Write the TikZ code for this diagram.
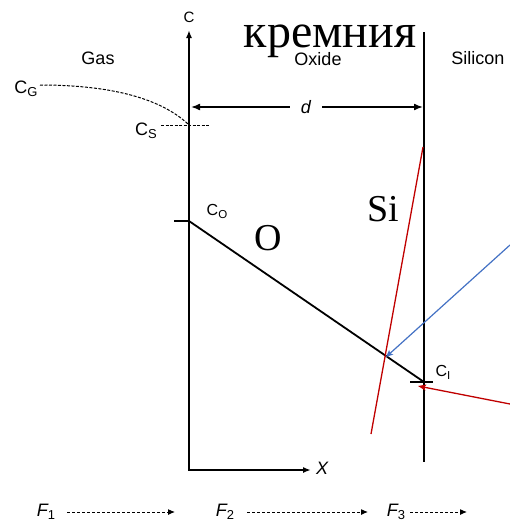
\documentclass[tikz,border=0pt]{standalone}
\usepackage{fontspec}
\usepackage{xcolor}
\usepackage{graphicx}
\setmainfont{Liberation Serif}
\newfontfamily\diagfont{Liberation Sans}
\usetikzlibrary{arrows.meta}
\definecolor{siRed}{RGB}{192,0,0}
\definecolor{oBlue}{RGB}{68,114,196}
\newcommand{\lowsub}[1]{\raisebox{-0.35ex}{\scalebox{0.72}{#1}}}

\begin{document}
\begin{tikzpicture}[
    x=1pt,y=-1pt,
    axis/.style={line width=1.8pt,{Latex[length=8pt,width=6pt]}-{Latex[length=8pt,width=6pt]}},
    wall/.style={line width=1.4pt},
    tick/.style={line width=1.5pt},
    profile/.style={line width=1.8pt},
    span/.style={line width=1.5pt,-{Latex[length=9pt,width=7pt]}},
    guide/.style={line width=1pt,dash pattern=on 3pt off 1.5pt},
    flux/.style={line width=1pt,dash pattern=on 3pt off 2pt,-{Latex[length=7pt,width=6pt]}},
    region/.style={font=\diagfont\fontsize{18}{18}\selectfont,inner sep=0pt},
    conc/.style={font=\diagfont\fontsize{16}{16}\selectfont,inner sep=0pt},
    fluxlabel/.style={font=\diagfont\itshape\fontsize{18}{18}\selectfont,inner sep=0pt},
    big/.style={font=\fontsize{38}{38}\selectfont,inner sep=0pt},
    redline/.style={draw=siRed,line width=1.3pt},
    blueline/.style={draw=oBlue,line width=1.2pt}
]
    \useasboundingbox (0,0) rectangle (510,530);

    % Concentration axis, depth axis and the oxide/silicon interface.
    \coordinate (cTop)    at (189,30);
    \coordinate (origin)  at (189,470);
    \coordinate (xEnd)    at (311,470);
    \coordinate (wallTop) at (424,32);
    \coordinate (wallBot) at (424,462);
    \draw[axis,line join=miter] (cTop) -- (origin) -- (xEnd);
    \draw[wall] (wallTop) -- (wallBot);
    \node[conc,font=\diagfont\fontsize{15}{15}\selectfont] (cLabel) at (189,17) {C};
    \node[fluxlabel,anchor=west] (xLabel) at (316,468) {X};

    % Title fragment and region names.
    \node[font=\fontsize{48}{48}\selectfont,anchor=base,inner sep=0pt] (title) at (330,47) {кремния};
    \node[region] (gas)     at (98,58)  {Gas};
    \node[region] (oxide)   at (318,59) {Oxide};
    \node[region] (silicon) at (478,58) {Silicon};

    % Oxide thickness.
    \coordinate (dLeft)  at (191,107);
    \coordinate (dRight) at (423,107);
    \node[fluxlabel,inner xsep=11pt] (dLabel) at (306,107) {d};
    \draw[span] (dLabel.west) -- (dLeft);
    \draw[span] (dLabel.east) -- (dRight);

    % Gas side: C_G falls to C_S at the surface.
    \node[conc,font=\diagfont\fontsize{18}{18}\selectfont] (cG) at (26,89) {C\lowsub{G}};
    \coordinate (gStart) at (40,85);
    \coordinate (cSurf)  at (188,124);
    \draw[guide] (gStart) .. controls (110,85) and (160,98) .. (cSurf);
    \node[conc,font=\diagfont\fontsize{18}{18}\selectfont] (cS) at (146,131) {C\lowsub{S}};
    \coordinate (sLeft)  at (161,125);
    \coordinate (sRight) at (210,125);
    \draw[guide] (sLeft) -- (sRight);

    % Linear profile across the oxide, C_O to C_I.
    \coordinate (cO)       at (189,221);
    \coordinate (oTick)    at (174,221);
    \coordinate (cI)       at (424,382);
    \coordinate (iTickL)   at (410,382);
    \coordinate (iTickR)   at (433,382);
    \draw[tick] (oTick) -- (cO);
    \draw[tick] (iTickL) -- (iTickR);
    \draw[profile] (cO) -- (cI);
    \node[conc] (cOLabel) at (217,211) {C\lowsub{O}};
    \node[conc] (cILabel) at (443,372) {C\lowsub{I}};

    \node[big] (oxygen)  at (268,238) {O};
    \node[big] (siLabel) at (383,209) {Si};

    % Annotation strokes.
    \coordinate (redTop)     at (423,147);
    \coordinate (redBot)     at (371,434);
    \coordinate (blueStart)  at (510,245);
    \coordinate (blueTip)    at (386,357);
    \coordinate (redStart)   at (510,404);
    \coordinate (redTip)     at (418,386);
    \draw[redline] (redTop) -- (redBot);
    \draw[blueline,-{Stealth[length=7pt,width=6pt,inset=1.5pt]}] (blueStart) -- (blueTip);
    \draw[redline,-{Stealth[length=8pt,width=6pt,inset=1.5pt]}] (redStart) -- (redTip);

    % Fluxes in the gas, the oxide and at the interface.
    \node[fluxlabel] (f1) at (46,512) {F\lowsub{\upshape 1}};
    \node[fluxlabel] (f2) at (225,512) {F\lowsub{\upshape 2}};
    \node[fluxlabel] (f3) at (396,512) {F\lowsub{\upshape 3}};
    \coordinate (f1End) at (175,512);
    \coordinate (f2End) at (368,512);
    \coordinate (f3End) at (467,512);
    \draw[flux] (67,512) -- (f1End);
    \draw[flux] (247,512) -- (f2End);
    \draw[flux] (410,512) -- (f3End);
\end{tikzpicture}
\end{document}
